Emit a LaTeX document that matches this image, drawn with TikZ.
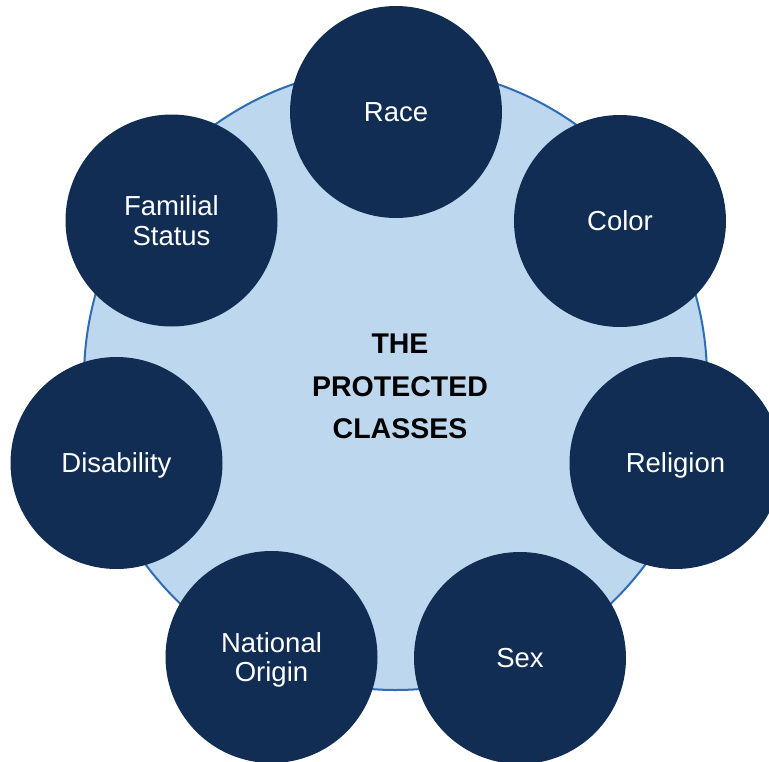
\documentclass[tikz,border=0pt]{standalone}
\usepackage{fontspec}
\setmainfont{Liberation Sans}
\definecolor{navy}{HTML}{112D53}
\definecolor{lightblue}{HTML}{BDD7EE}
\definecolor{rimblue}{HTML}{2E6DB4}
\begin{document}
\begin{tikzpicture}[x=1pt,y=-1pt,
  classcircle/.style={circle,fill=navy,draw=none,minimum size=212pt,inner sep=0pt,
    text=white,align=center,text depth=0pt,
    font=\fontsize{27.5}{29.5}\selectfont},
  hub/.style={circle,fill=lightblue,draw=rimblue,line width=2pt,minimum size=623pt,inner sep=0pt},
  hubtext/.style={align=center,text=black,text depth=0pt,
    font=\fontsize{28.5}{42.5}\selectfont\bfseries}]
\useasboundingbox (0,0) rectangle (769,761);
\node[hub] (hub) at (395.5,378.5) {};
\node[hubtext] (title) at (400,386.5) {THE\\PROTECTED\\CLASSES};
\node[classcircle] (race) at (396,112) {Race};
\node[classcircle] (color) at (620,221) {Color};
\node[classcircle] (religion) at (675.5,463) {Religion};
\node[classcircle] (sex) at (520,658) {Sex};
\node[classcircle] (origin) at (271.5,657) {National\\Origin};
\node[classcircle] (disability) at (116.5,463) {Disability};
\node[classcircle] (familial) at (171.5,220.5) {Familial\\Status};
\end{tikzpicture}
\end{document}
